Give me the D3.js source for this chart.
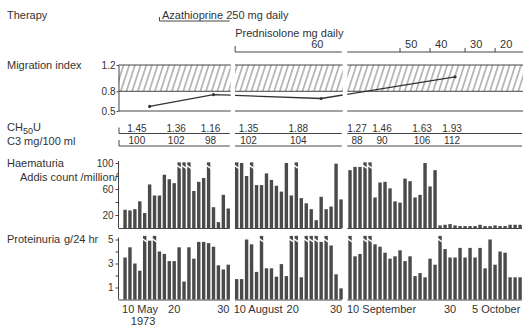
<!DOCTYPE html>
<html>
<head>
<meta charset="utf-8">
<script src="https://cdn.jsdelivr.net/npm/d3@7"></script>
<style>
  body { margin: 0; background: #fff; }
  svg text { font-family: "Liberation Sans", Arial, sans-serif; fill: #333; }
</style>
</head>
<body>
<div id="chart"></div>
<script>
// ---- data ----
// three broken time panels
const panelStart = ['1973-05-08T16:00', '1973-08-09T16:00', '1973-09-09T11:00'];
const panelEnd = ['1973-05-31T12:00', '1973-08-31T08:00', '1973-10-14T14:00'];
const barStart = ['1973-05-10', '1973-08-10', '1973-09-10'];

// daily haematuria (Addis count /million), >100 = off scale
const haemMay = [28, 27, 29, 41, 23, 67, 50, 50, 82, 75, 69, 120, 120, 120, 57, 71, 77, 120, 32, 9, 51, 30];
const haemAug = [120, 100, 80, 120, 66, 66, 84, 74, 65, 56, 100, 50, 120, 46, 38, 29, 12, 48, 29, 33, 99, 44];
const haemSep = [89, 94, 94, 120, 120, 47, 70, 71, 61, 41, 39, 76, 72, 47, 51, 100, 64, 89,
  4, 5, 6, 4, 3, 3, 3, 3, 5, 3, 3, 4, 3, 3, 5, 5, 5];

// daily proteinuria g/24 hr, >5 = off scale
const protMay = [3.5, 4.35, 3.0, 2.4, 6, 4.9, 6, 4.0, 3.8, 3.2, 3.2, 4.35, 1.5, 4.35, 3.4, 4.8, 4.8, 4.7, 4.4, 2.85, 2.5, 2.9];
const protAug = [1.7, 1.7, 5.0, 4.6, 2.3, 6, 2.6, 2.6, 1.9, 2.95, 1.95, 6, 6, 1.85, 6, 6, 6, 4.8, 6, 4.5, 2.1, 0.93];
const protSep = [6, 3.6, 3.8, 6, 6, 4.6, 4.4, 3.9, 3.4, 3.6, 4.1, 3.2, 3.6, 1.95, 2.2, 1.85, 3.4, 2.9,
  6, 4.2, 3.5, 3.5, 4.3, 3.5, 4.3, 3.5, 4.3, 2.6, 5.0, 2.9, 4.0, 3.9, 1.85, 1.85, 1.85];

// migration index
const migDates = ['1973-05-15', '1973-05-28', '1973-08-27', '1973-10-01'];
const migValues = [0.57, 0.75, 0.69, 1.02];
const migTicks = [0.5, 0.8, 1.2];
const migBand = [0.8, 1.2];

// complement
const complDates = ['1973-05-12', '1973-05-20', '1973-05-27', '1973-08-12', '1973-08-22',
  '1973-09-11', '1973-09-16', '1973-09-24', '1973-09-30'];
const ch50Values = ['1.45', '1.36', '1.16', '1.35', '1.88', '1.27', '1.46', '1.63', '1.93'];
const c3Values = ['100', '102', '98', '102', '104', '88', '90', '106', '112'];

// therapy
const azaStart = '1973-05-17';
const azaLabel = 'Azathioprine';
const azaDose = ' 250 mg daily';
const predStart = '1973-08-10';
const predLabel = 'Prednisolone  mg  daily';
const doseDates = ['1973-08-25', '1973-09-20', '1973-09-26', '1973-10-03', '1973-10-09'];
const doseValues = ['60', '50', '40', '30', '20'];

const haemTicks = [20, 40, 60, 80, 100];
const haemLabels = [20, 60, 100];
const protTicks = [1, 2, 3, 4, 5];
const protLabels = [1, 3, 5];

const xLabelDates = ['1973-05-10', '1973-05-20', '1973-05-30', '1973-08-10', '1973-08-20', '1973-08-30',
  '1973-09-10', '1973-09-30', '1973-10-05'];
const xLabels = ['10 May', '20', '30', '10 August', '20', '30', '10 September', '30', '5 October'];
const yearLabel = '1973';

// ---- layout ----
const W = 523, H = 326;
const panelLeft = [118.5, 235, 347.3];
const panelRight = [230.7, 342.7, 523];
const ink = '#444', barFill = '#4a4a4a';

const parseDay = d3.timeParse('%Y-%m-%d');
const parseTime = d3.timeParse('%Y-%m-%dT%H:%M');

const xs = panelStart.map((s, i) => d3.scaleTime()
  .domain([parseTime(s), parseTime(panelEnd[i])])
  .range([panelLeft[i], panelRight[i]]));

function panelOf(date) {
  for (let i = 0; i < xs.length; i++) {
    const [a, b] = xs[i].domain();
    if (date >= a && date <= b) return i;
  }
  return -1;
}
const xd = date => xs[panelOf(date)](date);

const yMig = d3.scaleLinear().domain([0.5, 1.2]).range([111, 65]);
const yHaem = d3.scaleLinear().domain([0, 100]).range([228, 163]);
const yProt = d3.scaleLinear().domain([0, 5]).range([299.5, 239.5]);

const svg = d3.select('#chart').append('svg')
  .attr('width', W).attr('height', H)
  .style('font-size', '11px');

const defs = svg.append('defs');
defs.append('pattern')
  .attr('id', 'hatch')
  .attr('patternUnits', 'userSpaceOnUse')
  .attr('width', 5.4).attr('height', 10)
  .attr('patternTransform', 'rotate(18)')
  .append('line')
  .attr('x1', 2.7).attr('x2', 2.7).attr('y1', 0).attr('y2', 10)
  .attr('stroke', '#555').attr('stroke-width', 0.8);

xs.forEach((x, i) => {
  defs.append('clipPath').attr('id', 'clip' + i)
    .append('rect')
    .attr('x', panelLeft[i]).attr('y', 0)
    .attr('width', panelRight[i] - panelLeft[i]).attr('height', H);
});

// left titles
const titles = svg.append('g');
titles.append('text').attr('x', 7).attr('y', 19).text('Therapy');
titles.append('text').attr('x', 7).attr('y', 69).text('Migration index');
const ch = titles.append('text').attr('x', 7).attr('y', 131);
ch.append('tspan').text('CH');
ch.append('tspan').attr('dy', 2.5).style('font-size', '9px').text('50');
ch.append('tspan').attr('dy', -2.5).text('U');
titles.append('text').attr('x', 7).attr('y', 145).text('C3  mg/100 ml');
titles.append('text').attr('x', 7).attr('y', 167).text('Haematuria');
titles.append('text').attr('x', 20).attr('y', 181).text('Addis count /million/');
titles.append('text').attr('x', 7).attr('y', 243).text('Proteinuria');
titles.append('text').attr('x', 64).attr('y', 243).text('g/24 hr');

// ---- therapy ----
const ther = svg.append('g').attr('stroke', ink).attr('fill', 'none');
const azaX = xd(parseDay(azaStart));
ther.append('line').attr('x1', azaX).attr('x2', panelRight[0] - 1).attr('y1', 21).attr('y2', 21);
ther.append('line').attr('x1', azaX).attr('x2', azaX).attr('y1', 17).attr('y2', 21);
svg.append('text').attr('x', azaX + 2.5).attr('y', 19).text(azaLabel + azaDose);

const predX = xd(parseDay(predStart)) - 1.5;
svg.append('text').attr('x', predX).attr('y', 37).text(predLabel);
ther.append('line').attr('x1', predX).attr('x2', predX).attr('y1', 46).attr('y2', 52);
[1, 2].forEach(i => {
  ther.append('line')
    .attr('x1', i === 1 ? predX : panelLeft[i]).attr('x2', panelRight[i] - (i === 2 ? 0 : 1))
    .attr('y1', 52).attr('y2', 52);
});
doseDates.forEach((d, i) => {
  const x = xd(parseDay(d));
  if (i > 0) ther.append('line').attr('x1', x).attr('x2', x).attr('y1', 48).attr('y2', 52);
  svg.append('text').attr('x', x + (i > 0 ? 5 : 0)).attr('y', 48).text(doseValues[i]);
});

// ---- migration index ----
const mig = svg.append('g');
xs.forEach((x, i) => {
  const l = panelLeft[i], r = panelRight[i];
  mig.append('rect')
    .attr('x', l).attr('width', r - l)
    .attr('y', yMig(migBand[1])).attr('height', yMig(migBand[0]) - yMig(migBand[1]))
    .attr('fill', 'url(#hatch)');
  [migBand[1], migBand[0], 0.5].forEach(v => {
    mig.append('line').attr('x1', l).attr('x2', r).attr('y1', yMig(v)).attr('y2', yMig(v))
      .attr('stroke', ink).attr('stroke-width', 1);
  });
});
const migPts = migDates.map((d, i) => [xd(parseDay(d)), yMig(migValues[i])]);
xs.forEach((x, i) => {
  mig.append('path')
    .attr('clip-path', `url(#clip${i})`)
    .attr('d', d3.line()(migPts))
    .attr('fill', 'none').attr('stroke', '#333').attr('stroke-width', 1.3);
});
mig.selectAll('circle').data(migPts).join('circle')
  .attr('cx', d => d[0]).attr('cy', d => d[1]).attr('r', 1.6).attr('fill', '#333');
svg.append('g').attr('transform', `translate(${panelLeft[0]},0)`)
  .call(d3.axisLeft(yMig).tickValues(migTicks).tickFormat(d3.format('.1f')).tickSize(2).tickPadding(1).tickSizeOuter(0))
  .call(g => g.selectAll('text').style('font-size', '10px').attr('fill', '#333'))
  .call(g => g.selectAll('path, line').attr('stroke', ink));

// ---- complement rows ----
const compl = svg.append('g');
[[ch50Values, 131.5, 133.5], [c3Values, 144, 146]].forEach(([vals, ty, ly]) => {
  compl.selectAll(null).data(vals).join('text')
    .attr('x', (d, i) => xd(parseDay(complDates[i])) + 2)
    .attr('y', ty)
    .attr('text-anchor', 'middle')
    .style('font-size', '10px')
    .text(d => d);
  xs.forEach((x, i) => {
    compl.append('line').attr('x1', panelLeft[i] + (i === 0 ? 0.5 : 0)).attr('x2', panelRight[i] - 1)
      .attr('y1', ly).attr('y2', ly).attr('stroke', ink);
  });
  compl.append('line').attr('x1', panelLeft[0] + 0.5).attr('x2', panelLeft[0] + 0.5)
    .attr('y1', ly - 6).attr('y2', ly).attr('stroke', ink);
});

// ---- bar panels ----
function barPanel(series, y, maxVal, cap, ticks, labels) {
  const g = svg.append('g');
  const data = [];
  series.forEach((vals, p) => {
    const start = parseDay(barStart[p]);
    vals.forEach((v, i) => data.push({ date: d3.timeDay.offset(start, i), v }));
  });
  const w = 3.4;
  g.selectAll('rect').data(data).join('rect')
    .attr('x', d => xd(d.date) - w / 2)
    .attr('width', w)
    .attr('y', d => y(Math.min(d.v, cap)))
    .attr('height', d => y(0) - y(Math.min(d.v, cap)))
    .attr('fill', barFill);
  g.selectAll('line.brk').data(data.filter(d => d.v > maxVal)).join('line')
    .attr('class', 'brk')
    .attr('x1', d => xd(d.date) - w / 2 - 0.5).attr('x2', d => xd(d.date) + w / 2 + 0.5)
    .attr('y1', d => y(cap) + 3).attr('y2', d => y(cap) + 6)
    .attr('stroke', '#fff').attr('stroke-width', 1.3);
  xs.forEach((x, i) => {
    g.append('line').attr('x1', panelLeft[i]).attr('x2', panelRight[i] - 1)
      .attr('y1', y(0) + 0.5).attr('y2', y(0) + 0.5).attr('stroke', ink);
  });
  svg.append('g').attr('transform', `translate(${panelLeft[0]},0)`)
    .call(d3.axisLeft(y).tickValues(ticks).tickSize(3).tickPadding(2).tickSizeOuter(0)
      .tickFormat(d => labels.includes(d) ? d : ''))
    .call(g => g.select('.domain').attr('d', `M0,${y(0)}V${y(maxVal) - 2}`))
    .call(g => g.selectAll('text').style('font-size', '10px').attr('fill', '#333'))
    .call(g => g.selectAll('path, line').attr('stroke', ink));
}
barPanel([haemMay, haemAug, haemSep], yHaem, 100, 101, haemTicks, haemLabels);
barPanel([protMay, protAug, protSep], yProt, 5, 5.3, protTicks, protLabels);

// ---- x labels (nudged right if they would collide with the previous one) ----
let prevEnd = -Infinity;
svg.append('g').selectAll('text').data(xLabels).join('text')
  .attr('x', (d, i) => xd(parseDay(xLabelDates[i])) + (d.includes(' ') ? -3 : 0))
  .attr('y', 313)
  .attr('text-anchor', d => d.includes(' ') ? 'start' : 'middle')
  .text(d => d)
  .each(function () {
    const b = this.getBBox();
    if (b.x < prevEnd + 4) {
      d3.select(this).attr('x', +d3.select(this).attr('x') + (prevEnd + 4 - b.x));
    }
    prevEnd = this.getBBox().x + this.getBBox().width;
  });
svg.append('text')
  .attr('x', xd(parseDay(xLabelDates[0])) + 18).attr('y', 325)
  .attr('text-anchor', 'middle').text(yearLabel);
</script>
</body>
</html>
